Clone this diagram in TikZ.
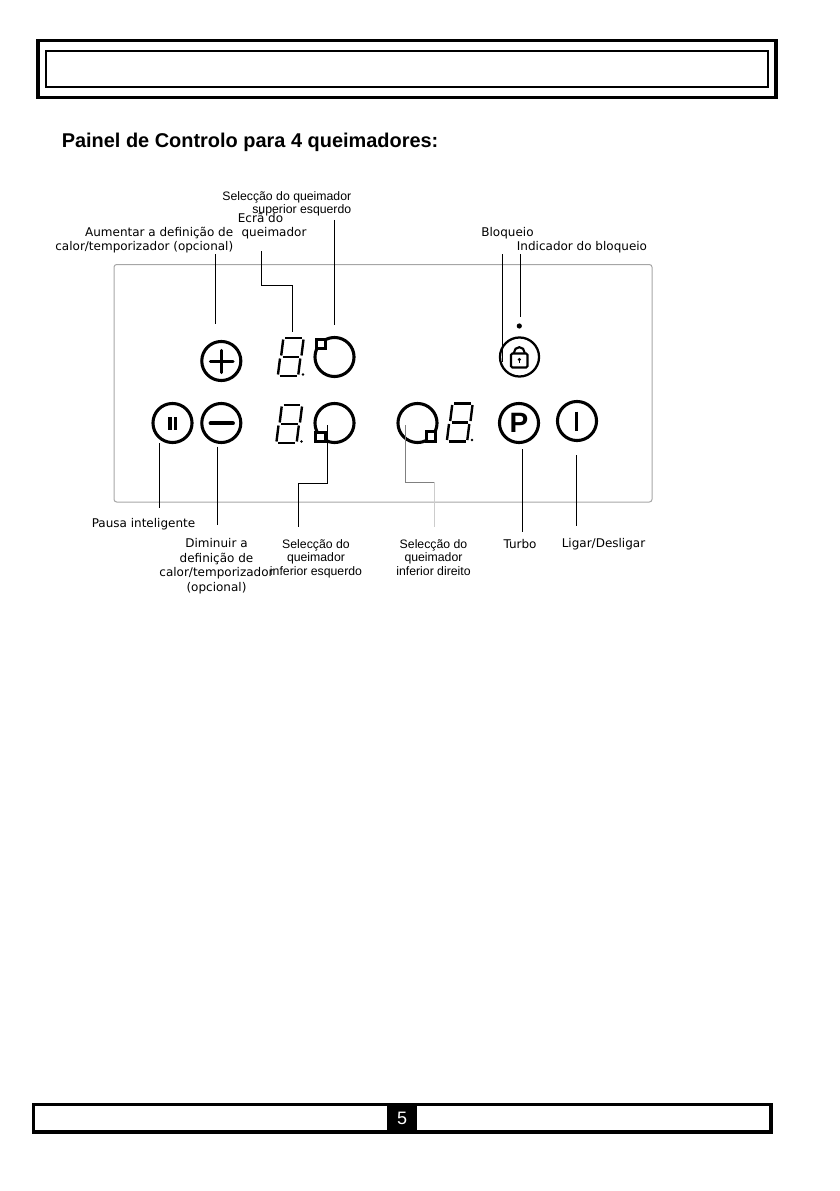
\documentclass[tikz,border=0pt]{standalone}
\usepackage{fontspec}
\setmainfont{Liberation Sans}
\newfontfamily\labelfont{DejaVu Sans}
\tikzset{
    button/.style={draw, circle, line width=2.3pt, minimum size=29.3pt, inner sep=0pt},
    leader/.style={line width=0.75pt},
    verdana/.style={font=\labelfont\fontsize{9pt}{11pt}\selectfont, inner sep=0pt, align=center},
    arial/.style={font=\fontsize{9.2pt}{10.2pt}\selectfont, inner sep=0pt, align=center},
    mark box/.style={draw, fill=white, line width=2.2pt, minimum size=7.4pt, inner sep=0pt}
}
% sedem segmentov displeja
\newcommand{\digit}[2]{
    \begin{scope}[shift={(#1,#2)}, line width=1.8pt]
        \draw (7,0) -- (23.5,0);
        \draw (5.2,1.5) -- (3.2,17.5);
        \draw (25.5,1.5) -- (23.5,17.5);
        \draw (4.5,19) -- (21,19);
        \draw (2,20.5) -- (0,36.5);
        \draw (22.3,20.5) -- (20.3,36.5);
        \draw (1.5,38) -- (18.5,38);
        \fill (25,36.5) circle (1.3);
    \end{scope}
}
\begin{document}
\begin{tikzpicture}[x=0.75pt, y=-0.75pt]
    \useasboundingbox (0,0) rectangle (839,1191);

    % horny ram
    \draw[line width=2.6pt] (38,40.5) rectangle (776,97.5);
    \draw[line width=1.5pt] (46,51) rectangle (768,87);
    \node[anchor=base west, inner sep=0pt, font=\bfseries\fontsize{14.95pt}{16pt}\selectfont] (title) at (61.5,148) {Painel de Controlo para 4 queimadores:};

    % panel
    \draw[gray!70, line width=0.75pt, rounded corners=2pt] (114,264.5) rectangle (652,502);

    % tlacidla
    \node[button] (plus) at (221.3,361) {};
    \draw[line width=2.5pt, line cap=round] (210.5,361.5) -- (233,361.5);
    \draw[line width=2.5pt, line cap=round] (221.5,350.5) -- (221.5,372.5);
    \node[button] (pause) at (172.5,423) {};
    \fill (168.3,416.7) rectangle (172,430);
    \fill (174,416.7) rectangle (177.3,430);
    \node[button] (minus) at (221.3,423) {};
    \draw[line width=2.8pt, line cap=round] (210.5,423.3) -- (233,423.3);
    \node[button, line width=1.7pt] (lock) at (519.5,357) {};
    \draw[line width=1.6pt, rounded corners=1pt] (511,353.5) rectangle (527.5,367.5);
    \draw[line width=1.6pt] (514,353.5) -- (514,352.5) arc[start angle=180, end angle=360, radius=5.3] -- (524.6,353.5);
    \fill (519.3,359.5) circle (1.7);
    \fill (518.6,359.5) rectangle (520,363);
    \fill (519.3,326) circle (2.6);
    \node[button] (turbo) at (519,423) {\bfseries\fontsize{21pt}{21pt}\selectfont P};
    \node[button] (power) at (577,421) {};
    \draw[line width=2.1pt] (576.7,411.5) -- (576.7,430.5);

    % horak a displeje
    \digit{278}{338}
    \digit{276.5}{405}
    \digit{447}{403.5}
    \node[button] (upleft) at (334.5,357) {};
    \node[mark box] (upleftmark) at (321,344) {};
    \node[button] (lowleft) at (334.5,423) {};
    \node[mark box] (lowleftmark) at (320.7,437) {};
    \node[button] (lowright) at (417.5,423) {};
    \node[mark box] (lowrightmark) at (431,436.5) {};

    % popisy
    \node[verdana, align=right, anchor=north east] (plustext) at (233.5,226.5) {Aumentar a definição de\\calor/temporizador (opcional)};
    \node[arial, align=right, anchor=north east] (uplefttext) at (351.5,191) {Selecção do queimador\\superior esquerdo};
    \node[verdana, anchor=center] (screentext) at (260.5,218) {Ecrã do};
    \node[verdana, anchor=center] (screentextb) at (274,233) {queimador};
    \node[verdana, anchor=center] (locktext) at (507.5,233.5) {Bloqueio};
    \node[verdana, anchor=center] (lamptext) at (582,247.5) {Indicador do bloqueio};
    \node[verdana, anchor=center] (pausetext) at (143.5,524.5) {Pausa inteligente};
    \node[verdana, anchor=north] (minustext) at (216.5,538) {Diminuir a\\definição de\\calor/temporizador\\(opcional)};
    \node[arial, anchor=north] (lowlefttext) at (316,539) {Selecção do\\queimador\\inferior esquerdo};
    \node[arial, anchor=north] (lowrighttext) at (433.5,539) {Selecção do\\queimador\\inferior direito};
    \node[verdana, anchor=center] (turbotext) at (520,544) {Turbo};
    \node[verdana, anchor=center] (powertext) at (603.5,544.5) {Ligar/Desligar};

    % ciary
    \coordinate (a1) at (215.7,254);
    \coordinate (a2) at (215.7,324);
    \draw[leader] (a1) -- (a2);
    \coordinate (b1) at (261.7,251);
    \coordinate (b2) at (292.3,331.7);
    \draw[leader] (b1) |- (292.3,285.3) -- (b2);
    \coordinate (c1) at (334.3,220);
    \coordinate (c2) at (334.3,325);
    \draw[leader] (c1) -- (c2);
    \coordinate (d1) at (502.3,254);
    \coordinate (d2) at (502.3,361.7);
    \draw[leader] (d1) -- (d2);
    \coordinate (e1) at (520.3,254);
    \coordinate (e2) at (520.3,316.7);
    \draw[leader] (e1) -- (e2);
    \coordinate (f1) at (159.3,443.3);
    \coordinate (f2) at (159.3,508.3);
    \draw[leader] (f1) -- (f2);
    \coordinate (g1) at (217.3,446.7);
    \coordinate (g2) at (217.3,525);
    \draw[leader] (g1) -- (g2);
    \coordinate (h1) at (327.3,425);
    \coordinate (h2) at (298.3,526.7);
    \draw[leader] (h1) |- (298.3,483.3) -- (h2);
    \coordinate (i1) at (405.7,425);
    \coordinate (i2) at (434,482.3);
    \coordinate (i3) at (434,526.7);
    \draw[gray, line width=0.6pt] (i1) |- (i2);
    \draw[gray!40, line width=0.6pt] (i2) -- (i3);
    \coordinate (j1) at (522.3,449);
    \coordinate (j2) at (522.3,531.7);
    \draw[leader] (j1) -- (j2);
    \coordinate (k1) at (576.3,455);
    \coordinate (k2) at (576.3,525.7);
    \draw[leader] (k1) -- (k2);

    % spodny ram
    \draw[line width=2.6pt] (33.5,1104.5) rectangle (771,1132);
    \fill (387.3,1103) rectangle (417,1133);
    \node[text=white, font=\fontsize{13.5pt}{16pt}\selectfont, inner sep=0pt] (pagenum) at (402,1118) {5};
\end{tikzpicture}
\end{document}
